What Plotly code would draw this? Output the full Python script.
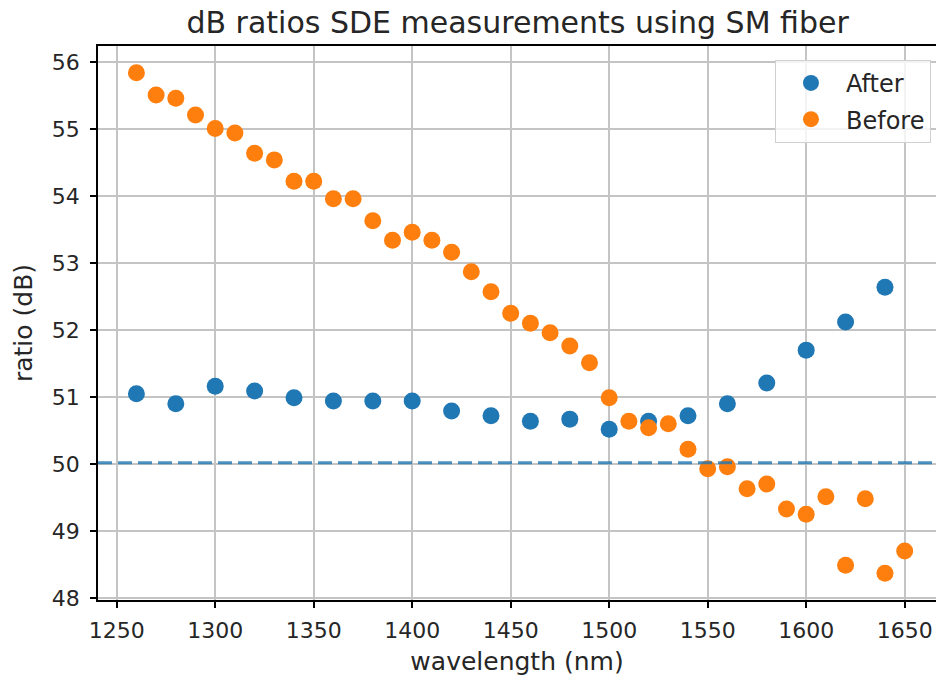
import plotly.graph_objects as go

after_x = [1260, 1280, 1300, 1320, 1340, 1360, 1380, 1400, 1420, 1440,
           1460, 1480, 1500, 1520, 1540, 1560, 1580, 1600, 1620, 1640]
after_y = [51.05, 50.90, 51.16, 51.09, 50.99, 50.94, 50.94, 50.94, 50.79, 50.72,
           50.64, 50.67, 50.52, 50.64, 50.72, 50.90, 51.21, 51.70, 52.12, 52.64]

before_x = list(range(1260, 1660, 10))
before_y = [55.84, 55.51, 55.46, 55.21, 55.01, 54.94, 54.64, 54.54, 54.22, 54.22,
            53.96, 53.96, 53.63, 53.34, 53.46, 53.34, 53.16, 52.87, 52.57, 52.25,
            52.10, 51.96, 51.76, 51.51, 50.99, 50.64, 50.54, 50.60, 50.22, 49.93,
            49.96, 49.63, 49.70, 49.33, 49.25, 49.51, 48.49, 49.48, 48.37, 48.70]

threshold = 50.02
x_ticks = list(range(1250, 1700, 50))
y_ticks = list(range(48, 57))

FONT = "DejaVu Sans"
TXT = "#262626"
fig = go.Figure()
fig.add_trace(go.Scatter(x=after_x, y=after_y, mode="markers", name="After",
                         legendgroup="a", marker=dict(color="#1f77b4", size=17)))
fig.add_trace(go.Scatter(x=before_x, y=before_y, mode="markers", name="Before",
                         legendgroup="b", marker=dict(color="#ff7f0e", size=17)))
fig.add_hline(y=threshold, line=dict(color="rgba(31,119,180,0.8)", width=3, dash="14px,6px"))

axis_common = dict(showgrid=True, gridcolor="#c4c4c4", gridwidth=1.5,
                   showline=True, linecolor="black", linewidth=1.5,
                   ticks="outside", ticklen=6, tickwidth=1.5, tickcolor="black",
                   tickfont=dict(family=FONT, size=22, color=TXT),
                   zeroline=False)
fig.update_xaxes(range=[1240.5, 1665.9], tickvals=x_ticks, mirror=True,
                 ticklabelstandoff=4,
                 title=dict(text="wavelength (nm)", font=dict(family=FONT, size=25, color=TXT), standoff=10),
                 **axis_common)
fig.update_yaxes(range=[47.97, 56.24], tickvals=y_ticks, mirror=False,
                 ticklabelstandoff=6,
                 title=dict(text="ratio (dB)", font=dict(family=FONT, size=25, color=TXT), standoff=12),
                 **axis_common)
fig.update_layout(
    width=936, height=679,
    margin=dict(l=98, r=0, t=46, b=79),
    paper_bgcolor="white", plot_bgcolor="white",
    title=dict(text="dB ratios SDE measurements using SM fiber", x=0.553, xanchor="center",
               y=0.967, yanchor="middle", font=dict(family=FONT, size=30, color=TXT)),
    legend=dict(x=0.994, y=0.975, xanchor="right", yanchor="top",
                bgcolor="rgba(255,255,255,0.8)", bordercolor="#d0d0d0", borderwidth=1,
                font=dict(family=FONT, size=24, color=TXT), itemwidth=60,
                traceorder="grouped", tracegroupgap=2),
    showlegend=True,
)
fig.write_html("out.html")
